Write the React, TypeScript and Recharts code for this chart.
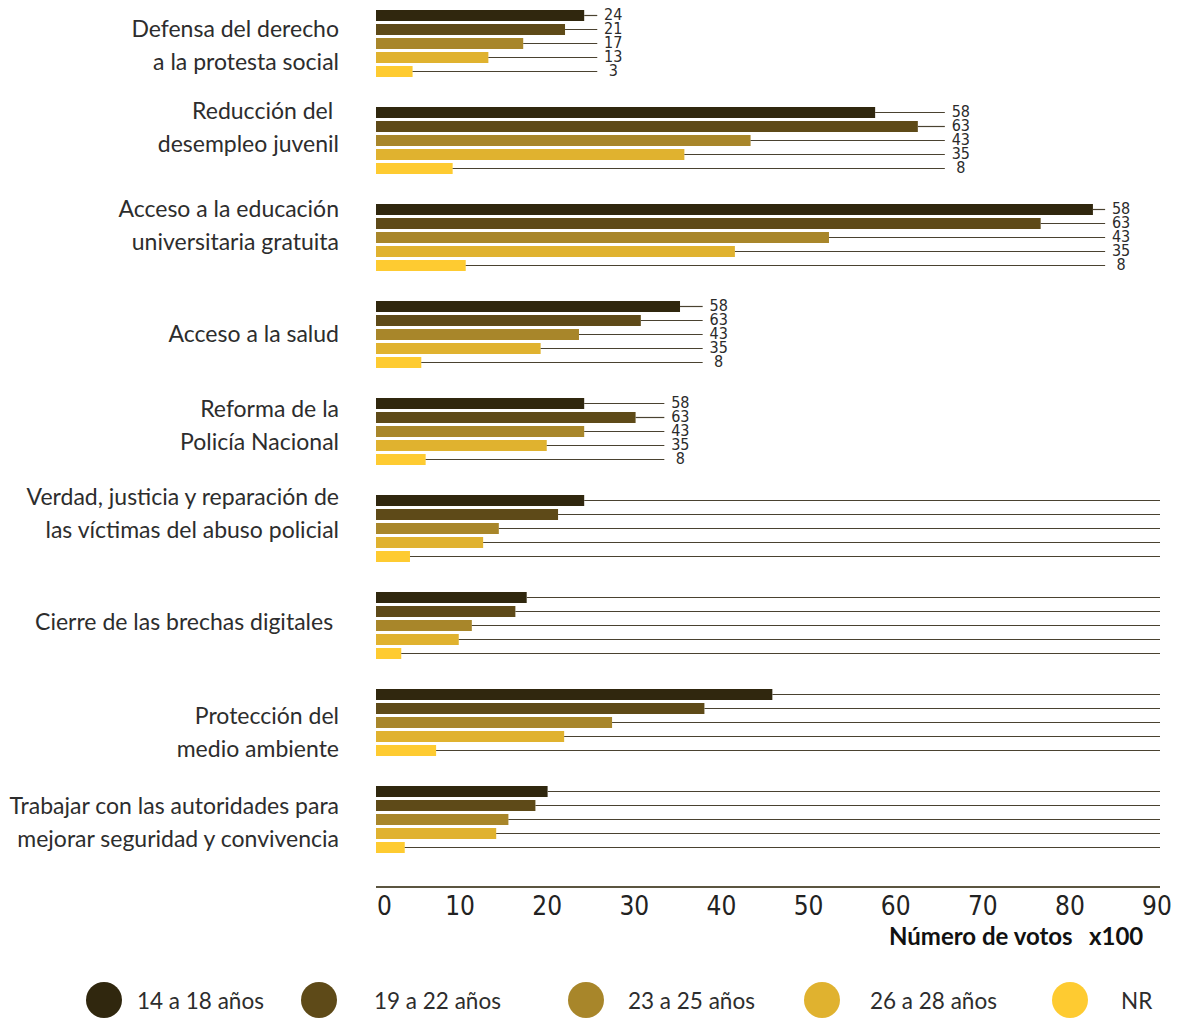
import React from 'react'
import { BarChart, Bar, XAxis, YAxis, LabelList } from 'recharts'

// categories, one entry per label line
const CATEGORIES = [
  ['Defensa del derecho', 'a la protesta social'],
  ['Reducción del ', 'desempleo juvenil'],
  ['Acceso a la educación', 'universitaria gratuita'],
  ['Acceso a la salud'],
  ['Reforma de la', 'Policía Nacional'],
  ['Verdad, justicia y reparación de', 'las víctimas del abuso policial'],
  ['Cierre de las brechas digitales '],
  ['Protección del', 'medio ambiente'],
  ['Trabajar con las autoridades para', 'mejorar seguridad y convivencia'],
]

const AGE_GROUPS = ['14 a 18 años', '19 a 22 años', '23 a 25 años', '26 a 28 años', 'NR']

// votes x100
const S_14_18 = [23.9, 57.3, 82.3, 34.9, 23.9, 23.9, 17.3, 45.5, 19.7]
const S_19_22 = [21.7, 62.2, 76.3, 30.4, 29.8, 20.9, 16.0, 37.7, 18.3]
const S_23_25 = [16.9, 43.0, 52.0, 23.3, 23.9, 14.1, 11.0, 27.1, 15.2]
const S_26_28 = [12.9, 35.4, 41.2, 18.9, 19.6, 12.3, 9.5, 21.6, 13.8]
const S_NR = [4.2, 8.8, 10.3, 5.2, 5.7, 3.9, 2.9, 6.9, 3.3]

// where each group's leader lines stop (same axis units)
const LEADER_END = [25.4, 65.3, 83.7, 37.5, 33.1, 90, 90, 90, 90]

// printed labels at the end of the leader lines
const LEADER_TEXT = [
  ['24', '21', '17', '13', '3'],
  ['58', '63', '43', '35', '8'],
  ['58', '63', '43', '35', '8'],
  ['58', '63', '43', '35', '8'],
  ['58', '63', '43', '35', '8'],
  [],
  [],
  [],
  [],
]

const X_TICKS = [0, 10, 20, 30, 40, 50, 60, 70, 80, 90]

const SERIES = [S_14_18, S_19_22, S_23_25, S_26_28, S_NR]
const COLORS = ['#30270e', '#5e4a18', '#a8862a', '#e0b22f', '#fecb31']

// layout tweaks for the category text (px from band centre)
const LABEL_NUDGE = [10, -5, -4, 7, 1.5, -7, 4, 18, 11]
const LEGEND_CIRCLE_X = [104, 319, 586, 822, 1070]
const LEGEND_TEXT_X = [137, 374, 628, 870, 1121]

const data = CATEGORIES.map((lines, c) => {
  const row: Record<string, any> = { name: lines.join(' ').trim() }
  SERIES.forEach((s, i) => {
    row[`v${i}`] = s[c]
    row[`l${i}`] = LEADER_END[c] - s[c]
    row[`t${i}`] = LEADER_TEXT[c][i] ?? ''
  })
  return row
})

const SANS = 'Lato, "Open Sans", sans-serif'
const NARROW = '"Liberation Sans Narrow", "DejaVu Sans Condensed", sans-serif'

const Leader = (p: any) => {
  const y = p.y + p.height / 2
  return <line x1={p.x} x2={p.x + p.width} y1={y} y2={y} stroke="#4a4230" strokeWidth={1.2} />
}

const leaderLabel = (p: any) => {
  if (!p.value) return null
  return (
    <text
      x={p.x + p.width + 16}
      y={p.y + p.height / 2 + 4.5}
      textAnchor="middle"
      fontFamily={NARROW}
      fontSize={16}
      fill="#2b2b2b"
    >
      {p.value}
    </text>
  )
}

const YTick = ({ x, y, index }: any) => {
  const lines = CATEGORIES[index] || []
  const mid = y + LABEL_NUDGE[index]
  return (
    <g>
      {lines.map((t, i) => (
        <text
          key={i}
          x={x}
          y={mid + (i - (lines.length - 1) / 2) * 33}
          textAnchor="end"
          fontFamily={SANS}
          fontSize={23}
          fill="#2d2d2d"
          xmlSpace="preserve"
          style={{ whiteSpace: 'pre' }}
        >
          {t}
        </text>
      ))}
    </g>
  )
}

const XTick = ({ x, y, payload }: any) => {
  const first = payload.value === 0
  return (
    <text
      x={first ? x + 1 : x - 3}
      y={y + 28}
      textAnchor={first ? 'start' : 'middle'}
      fontFamily={NARROW}
      fontSize={26}
      fill="#222"
    >
      {payload.value}
    </text>
  )
}

export default function App() {
  return (
    <div style={{ position: 'absolute', left: 0, top: 0, width: 1178, height: 1019, background: '#fff', overflow: 'hidden' }}>
      <div style={{ position: 'absolute', left: 0, top: -5 }}>
        <BarChart
          layout="vertical"
          width={1178}
          height={932}
          data={data}
          margin={{ top: 0, right: 18, bottom: 0, left: 0 }}
          barSize={11}
          barGap={3}
        >
          <XAxis
            type="number"
            domain={[0, 90]}
            ticks={X_TICKS}
            interval={0}
            height={40}
            axisLine={{ stroke: '#5b5540', strokeWidth: 2 }}
            tickLine={false}
            tickSize={0}
            tickMargin={0}
            tick={XTick}
          />
          <YAxis
            type="category"
            dataKey="name"
            width={376}
            interval={0}
            axisLine={false}
            tickLine={false}
            tickSize={0}
            tickMargin={37}
            padding={{ top: 0, bottom: 19 }}
            tick={YTick}
          />
          {SERIES.map((_, i) => [
            <Bar
              key={`v${i}`}
              dataKey={`v${i}`}
              name={AGE_GROUPS[i]}
              stackId={`s${i}`}
              fill={COLORS[i]}
              isAnimationActive={false}
            />,
            <Bar
              key={`l${i}`}
              dataKey={`l${i}`}
              stackId={`s${i}`}
              fill="none"
              shape={Leader}
              isAnimationActive={false}
            >
              <LabelList dataKey={`t${i}`} content={leaderLabel} />
            </Bar>,
          ])}
        </BarChart>
      </div>

      <svg width={1178} height={1019} style={{ position: 'absolute', left: 0, top: 0, pointerEvents: 'none' }}>
        <text x={889} y={945} fontFamily={SANS} fontWeight={700} fontSize={24} fill="#111">
          Número de votos
        </text>
        <text x={1089} y={945} fontFamily={SANS} fontWeight={700} fontSize={24} fill="#111">
          x100
        </text>
        {AGE_GROUPS.map((g, i) => (
          <g key={g}>
            <circle cx={LEGEND_CIRCLE_X[i]} cy={1000} r={18} fill={COLORS[i]} />
            <text x={LEGEND_TEXT_X[i]} y={1008.5} fontFamily={SANS} fontSize={22.5} fill="#2d2d2d">
              {g}
            </text>
          </g>
        ))}
      </svg>
    </div>
  )
}
